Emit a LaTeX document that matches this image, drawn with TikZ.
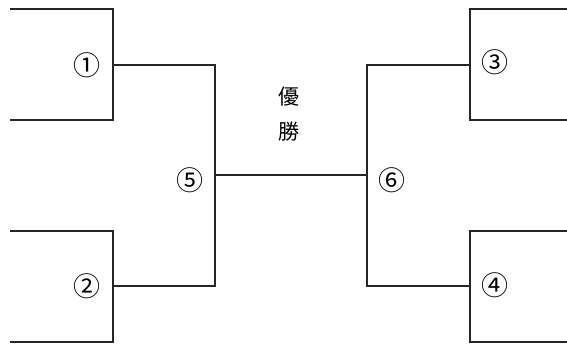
\documentclass[tikz,border=0pt]{standalone}
\usepackage{fontspec}
\newfontfamily\cjk{Noto Sans CJK JP}
\begin{document}
\begin{tikzpicture}[x=1pt,y=-1pt,
  bline/.style={line width=2pt, line join=miter, black!85},
  num/.style={font=\cjk\fontsize{27}{27}\selectfont, inner sep=0pt},
  title/.style={font=\cjk\fontsize{21}{21}\selectfont, inner sep=0pt}]
\useasboundingbox (0,0) rectangle (567,347);
% left upper bracket
\coordinate (a1) at (10,9);
\coordinate (b1) at (113,9);
\coordinate (c1) at (113,120);
\coordinate (d1) at (10,120);
\coordinate (m1) at (113,65);
% left lower bracket
\coordinate (a2) at (10,231);
\coordinate (b2) at (113,231);
\coordinate (c2) at (113,342);
\coordinate (d2) at (10,342);
\coordinate (m2) at (113,286);
% right upper bracket
\coordinate (a3) at (567,9);
\coordinate (b3) at (470,9);
\coordinate (c3) at (470,120);
\coordinate (d3) at (567,120);
\coordinate (m3) at (470,65);
% right lower bracket
\coordinate (a4) at (567,231);
\coordinate (b4) at (470,231);
\coordinate (c4) at (470,342);
\coordinate (d4) at (567,342);
\coordinate (m4) at (470,286);
% semifinal joints
\coordinate (s5t) at (215,65);
\coordinate (s5b) at (215,286);
\coordinate (s5m) at (215,175);
\coordinate (s6t) at (367,65);
\coordinate (s6b) at (367,286);
\coordinate (s6m) at (367,175);

\draw[bline] (a1) -- (b1) -- (c1) -- (d1);
\draw[bline] (a2) -- (b2) -- (c2) -- (d2);
\draw[bline] (a3) -- (b3) -- (c3) -- (d3);
\draw[bline] (a4) -- (b4) -- (c4) -- (d4);
\draw[bline] (m1) -- (s5t) -- (s5b) -- (m2);
\draw[bline] (m3) -- (s6t) -- (s6b) -- (m4);
\draw[bline] (s5m) -- (s6m);

\node[num] (n1) at (87,65) {①};
\node[num] (n2) at (87,286) {②};
\node[num] (n3) at (495,62) {③};
\node[num] (n4) at (495,285) {④};
\node[num] (n5) at (190,180) {⑤};
\node[num] (n6) at (392,180) {⑥};
\node[title] (t1) at (289,97) {優};
\node[title] (t2) at (289,132) {勝};
\end{tikzpicture}
\end{document}
